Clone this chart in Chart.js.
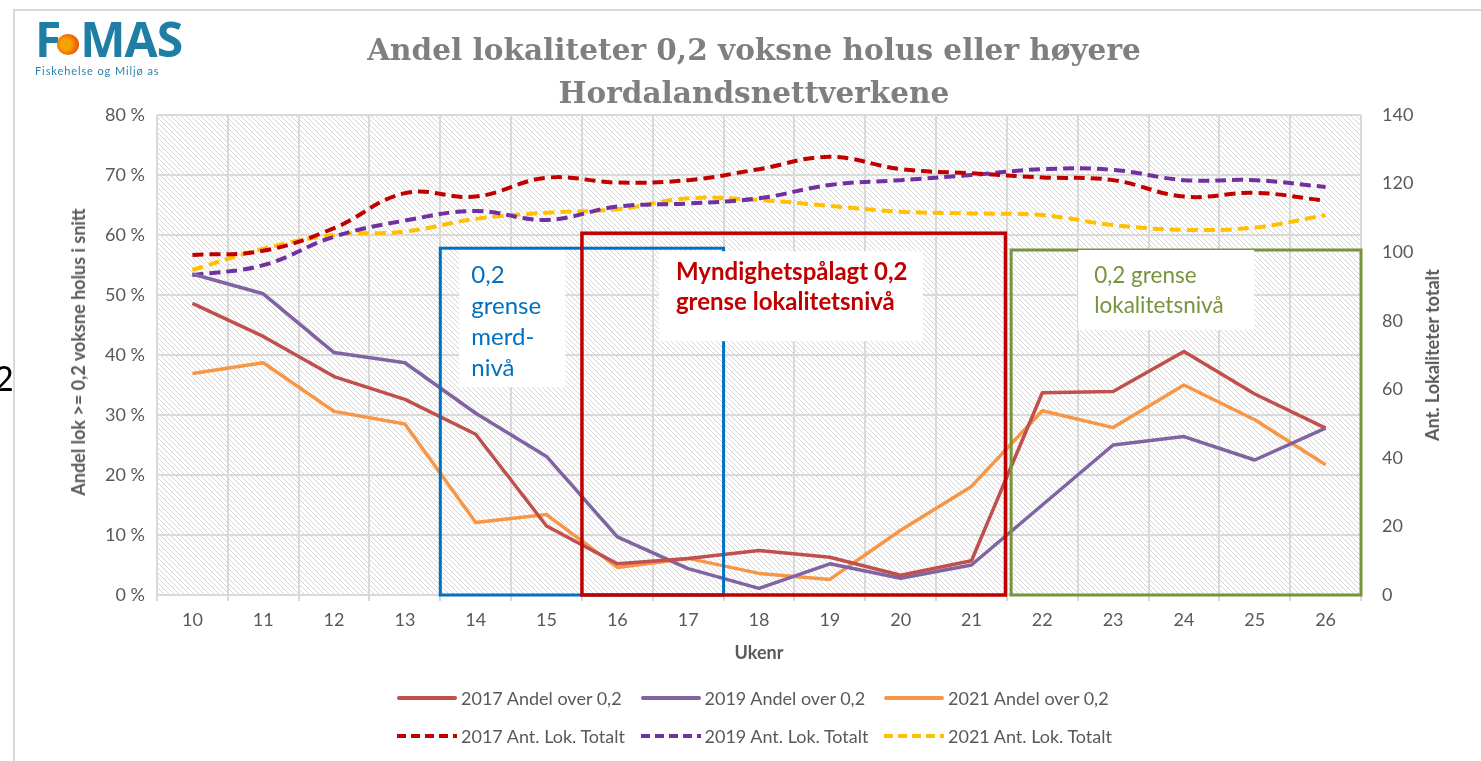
<!DOCTYPE html>
<html><head><meta charset="utf-8">
<script src="https://cdn.jsdelivr.net/npm/chart.js@4.4.0/dist/chart.umd.min.js"></script>
<style>
html,body{margin:0;padding:0;background:#fff;width:1481px;height:761px;overflow:hidden;}
body{position:relative;font-family:Lato,sans-serif;}
#frame{position:absolute;left:13px;top:9px;width:1470px;height:760px;border-left:2px solid #d9d9d9;border-top:2px solid #d9d9d9;}
#c{position:absolute;left:0;top:0;}
#title{position:absolute;left:0;width:1508px;top:28px;text-align:center;font-family:"DejaVu Serif",serif;font-weight:bold;font-size:27px;line-height:43px;color:#7f7f7f;}
#title span{white-space:nowrap;}
.atitle{position:absolute;white-space:nowrap;font-weight:bold;font-size:18px;color:#595959;}
#ytitle{left:78px;top:352px;transform:translate(-50%,-50%) rotate(-90deg);}
#y1title{left:1432px;top:355px;transform:translate(-50%,-50%) rotate(-90deg);}
#legend{position:absolute;left:397px;top:686px;display:grid;grid-template-columns:243.5px 243.5px 243.5px;row-gap:14px;font-size:18px;color:#595959;}
.li{display:flex;align-items:center;height:24px;white-space:nowrap;}
.li canvas{margin-right:4px;}
#logo{position:absolute;left:35px;top:14px;color:#1f7ea6;}
#logo .big{font-family:"Open Sans",sans-serif;font-weight:bold;font-size:48px;line-height:50px;letter-spacing:-1px;}
#logo .dot{display:inline-block;width:22px;height:21px;border-radius:50%;background:radial-gradient(circle at 40% 50%,#f4a300 30%,#e84a10 80%);vertical-align:2px;margin:0 1px 0 -3px;}
#logo .sub{font-size:11px;letter-spacing:0.9px;margin-top:0px;color:#2a84ad;}
#two{position:absolute;left:-6px;top:357px;font-size:34px;color:#000;font-family:Lato,sans-serif;}
</style></head>
<body>
<div id="frame"></div>
<canvas id="c" width="1481" height="761" style="width:1481px;height:761px"></canvas>
<div id="logo"><div class="big">F<span class="dot"></span>MAS</div><div class="sub">Fiskehelse og Miljø as</div></div>
<div id="title"><span id="t1">Andel lokaliteter 0,2 voksne holus eller høyere</span><br><span>Hordalandsnettverkene</span></div>
<div id="ytitle" class="atitle">Andel lok &gt;= 0,2 voksne holus i snitt</div>
<div id="y1title" class="atitle">Ant. Lokaliteter totalt</div>
<div id="two">2</div>
<div id="legend"></div>
<script>
const weeks = ['10','11','12','13','14','15','16','17','18','19','20','21','22','23','24','25','26'];
const andel2017 = [48.6,43.1,36.4,32.6,26.8,11.5,5.2,6.1,7.4,6.3,3.3,5.7,33.7,33.9,40.6,33.5,27.8];
const andel2019 = [53.5,50.2,40.4,38.7,30.3,23.1,9.7,4.4,1.1,5.2,2.8,5.0,15.0,25.0,26.4,22.5,27.8];
const andel2021 = [36.9,38.7,30.6,28.5,12.1,13.4,4.6,6.1,3.6,2.6,10.8,18.1,30.7,27.9,35.0,29.2,21.7];
const tot2017 = [99.2,100.4,107,117.2,116.2,121.7,120.3,121,124.2,127.8,124.2,123,121.8,121,116.2,117.3,115];
const tot2019 = [93.3,96.2,104.5,109.2,112,109.4,113.3,114.2,115.7,119.6,121,122.5,124.2,124,121,121,119];
const tot2021 = [94.8,101,105,106,109.7,111.5,112.5,115.7,115.2,113.5,111.8,111.3,110.8,107.9,106.5,107.2,110.8];
const seriesNames = ['2017 Andel over 0,2','2019 Andel over 0,2','2021 Andel over 0,2','2017 Ant. Lok. Totalt','2019 Ant. Lok. Totalt','2021 Ant. Lok. Totalt'];
const leftTicks = [0,10,20,30,40,50,60,70,80];
const rightTicks = [0,20,40,60,80,100,120,140];
// annotation frames: category-index span and top value on left axis
const zoneFrom = [3.5, 5.5, 11.56];
const zoneTo = [7.5, 11.48, 16.5];
const zoneTop = [57.8, 60.3, 57.5];
const zoneColor = ['#0070C0','#C00000','#77933C'];
const zoneText = [['0,2','grense','merd-','nivå'],['Myndighetspålagt 0,2','grense lokalitetsnivå'],['0,2 grense','lokalitetsnivå']];

const solidColors = ['#C0504D','#8064A2','#F79646'];
const dashColors = ['#C00000','#7030A0','#FFC000'];

// fit title width
(function(){const t=document.getElementById('t1');const tt=document.getElementById('title');
  const w=t.getBoundingClientRect().width; const fs=27*774/w; tt.style.fontSize=fs.toFixed(2)+'px';})();

function hatch(){
  const s=5, p=document.createElement('canvas'); p.width=s; p.height=s;
  const c=p.getContext('2d'); c.fillStyle='#ffffff'; c.fillRect(0,0,s,s);
  c.strokeStyle='#d6d6d6'; c.lineWidth=1;
  c.beginPath();
  for(const k of [-s,0,s]){c.moveTo(k,0);c.lineTo(k+s,s);}
  c.stroke();
  return p;
}
const bgPlugin={id:'bg',beforeDraw(chart){
  const {ctx,chartArea:a}=chart;
  ctx.save(); ctx.fillStyle=ctx.createPattern(hatch(),'repeat');
  ctx.fillRect(a.left,a.top,a.right-a.left,a.bottom-a.top); ctx.restore();
}};
const zonePlugin={id:'zones',afterDatasetsDraw(chart){
  const {ctx}=chart, xs=chart.scales.x, ys=chart.scales.y;
  const lw=[3,3.5,3];
  const rects=[];
  for(let i=0;i<zoneFrom.length;i++){
    const x0=xs.getPixelForValue(zoneFrom[i]), x1=xs.getPixelForValue(zoneTo[i]);
    const y0=ys.getPixelForValue(zoneTop[i]), y1=ys.getPixelForValue(0);
    rects.push([x0,y0,x1,y1]);
    ctx.save(); ctx.strokeStyle=zoneColor[i]; ctx.lineWidth=lw[i];
    ctx.strokeRect(x0,y0,x1-x0,y1-y0); ctx.restore();
  }
  const lab=[
    {dx:19,dy:2,w:106,h:137,tx:31,ty:27,lh:31,bold:false,size:24},
    {dx:77,dy:18,w:264,h:90,tx:94,ty:39,lh:30,bold:true,size:24},
    {dx:67,dy:0,w:176,h:80,tx:83,ty:26,lh:30,bold:false,size:22.5}
  ];
  for(let i=0;i<lab.length;i++){
    const L=lab[i], r=rects[i];
    ctx.save(); ctx.fillStyle='#fff'; ctx.fillRect(r[0]+L.dx,r[1]+L.dy,L.w,L.h);
    ctx.fillStyle=zoneColor[i]; ctx.font=(L.bold?'bold ':'')+L.size+'px Lato'; ctx.textBaseline='middle';
    zoneText[i].forEach((t,j)=>ctx.fillText(t,r[0]+L.tx,r[1]+L.ty+j*L.lh));
    ctx.restore();
  }
}};

const tickFont={family:'Lato',size:18};
const ds=[
  {label:seriesNames[0],data:andel2017,borderColor:solidColors[0],yAxisID:'y'},
  {label:seriesNames[1],data:andel2019,borderColor:solidColors[1],yAxisID:'y'},
  {label:seriesNames[2],data:andel2021,borderColor:solidColors[2],yAxisID:'y'},
  {label:seriesNames[3],data:tot2017,borderColor:dashColors[0],yAxisID:'y1',borderDash:[11,6],tension:0.4},
  {label:seriesNames[4],data:tot2019,borderColor:dashColors[1],yAxisID:'y1',borderDash:[11,6],tension:0.4},
  {label:seriesNames[5],data:tot2021,borderColor:dashColors[2],yAxisID:'y1',borderDash:[11,6],tension:0.4}
].map((d,i)=>Object.assign({pointRadius:0,borderWidth:i<3?3.5:4,fill:false,tension:0,borderCapStyle:'butt',borderJoinStyle:'round'},d));

const chart=new Chart(document.getElementById('c'),{
  type:'line',
  data:{labels:weeks,datasets:ds},
  options:{
    responsive:false,animation:false,devicePixelRatio:1,
    layout:{padding:{top:115,left:60,right:30,bottom:86}},
    plugins:{legend:{display:false},title:{display:false},tooltip:{enabled:false}},
    scales:{
      x:{offset:true,grid:{offset:true,color:'#d9d9d9',lineWidth:2,drawTicks:true,tickLength:6,tickColor:'#d9d9d9'},border:{display:false},
         ticks:{color:'#595959',font:tickFont,padding:8,maxRotation:0,autoSkip:false},
         title:{display:true,text:'Ukenr',color:'#595959',font:{family:'Lato',size:18,weight:'bold'},padding:{top:0,bottom:11}},
         afterFit(s){s.height=80;}},
      y:{position:'left',min:0,max:80,afterBuildTicks(s){s.ticks=leftTicks.map(v=>({value:v}));},
         ticks:{color:'#595959',font:tickFont,padding:12,callback:v=>v+' %'},
         grid:{color:'#d9d9d9',lineWidth:2,drawTicks:false},border:{display:false},
         afterFit(s){s.width=97;}},
      y1:{position:'right',min:0,max:140,afterBuildTicks(s){s.ticks=rightTicks.map(v=>({value:v}));},
         ticks:{color:'#595959',font:tickFont,padding:21},
         grid:{display:false,drawTicks:false},border:{display:false},
         afterFit(s){s.width=90;}}
    }
  },
  plugins:[bgPlugin,zonePlugin]
});

// legend from chart datasets
const leg=document.getElementById('legend');
chart.data.datasets.forEach(d=>{
  const it=document.createElement('div'); it.className='li';
  const cv=document.createElement('canvas'); cv.width=60; cv.height=8;
  const c=cv.getContext('2d'); c.strokeStyle=d.borderColor; c.lineWidth=4;
  if(d.borderDash){c.setLineDash([9,5]);} c.lineCap=d.borderDash?'butt':'round';
  c.beginPath(); c.moveTo(d.borderDash?0:2,4); c.lineTo(d.borderDash?60:58,4); c.stroke();
  it.appendChild(cv);
  const sp=document.createElement('span'); sp.textContent=d.label; it.appendChild(sp);
  leg.appendChild(it);
});
</script>
</body></html>
